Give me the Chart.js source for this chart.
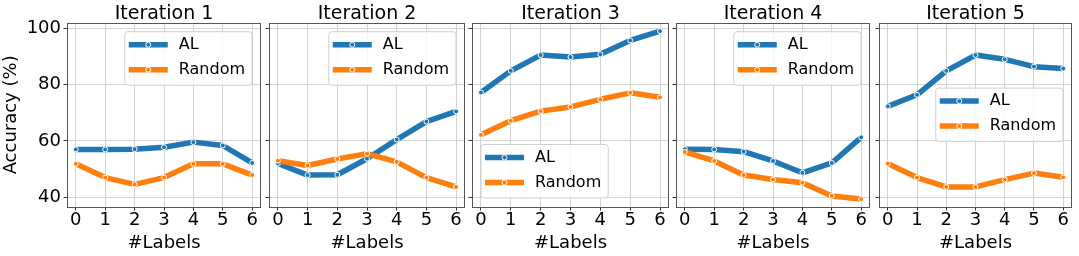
<!DOCTYPE html>
<html><head><meta charset="utf-8">
<script src="https://cdn.jsdelivr.net/npm/chart.js@4.4.0/dist/chart.umd.min.js"></script>
<style>
html,body{margin:0;padding:0;background:#fff;}
#wrap{position:relative;width:1079px;height:256px;overflow:hidden;background:#fff;}
#wrap canvas{position:absolute;top:0;}
</style></head><body><div id="wrap"></div>
<script>
// ---- data ----
const categories = [0, 1, 2, 3, 4, 5, 6];
const xTickLabels = ['0', '1', '2', '3', '4', '5', '6'];
const yTickValues = [40, 60, 80, 100];
const panelTitles = ['Iteration 1', 'Iteration 2', 'Iteration 3', 'Iteration 4', 'Iteration 5'];
const seriesNames = ['AL', 'Random'];
const xAxisTitle = '#Labels';
const yAxisTitle = 'Accuracy (%)';

const alIter1 = [57.0, 57.0, 57.1, 57.8, 59.6, 58.4, 52.2];
const randomIter1 = [51.9, 47.0, 44.6, 47.0, 51.9, 51.9, 47.9];
const alIter2 = [52.0, 47.9, 48.0, 53.7, 60.5, 66.9, 70.5];
const randomIter2 = [53.0, 51.3, 53.6, 55.5, 52.6, 47.0, 43.7];
const alIter3 = [77.2, 84.9, 90.5, 89.8, 90.8, 95.7, 99.0];
const randomIter3 = [62.2, 67.2, 70.6, 72.1, 74.8, 77.1, 75.5];
const alIter4 = [57.1, 57.0, 56.2, 52.9, 48.7, 52.2, 61.3];
const randomIter4 = [56.1, 52.9, 47.9, 46.3, 45.2, 40.5, 39.4];
const alIter5 = [72.3, 76.4, 84.9, 90.5, 89.0, 86.4, 85.7];
const randomIter5 = [52.0, 47.0, 43.7, 43.7, 46.3, 48.6, 47.1];

const alSeries = [alIter1, alIter2, alIter3, alIter4, alIter5];
const randomSeries = [randomIter1, randomIter2, randomIter3, randomIter4, randomIter5];
const legendPlaces = ['upper right', 'upper right', 'lower left', 'upper right', 'center right'];

// ---- style / layout ----
const BLUE = '#1f77b4', ORANGE = '#ff7f0e';
const FONT = 'DejaVu Sans';
const plotLeft = [67, 268.5, 471.5, 676, 879];
const plotRight = [261, 464, 668, 869.5, 1072];

const framePlugin = {
  id: 'frame',
  afterDatasetsDraw(chart) {
    const {ctx, chartArea: a} = chart;
    ctx.save();
    ctx.strokeStyle = '#555';
    ctx.lineWidth = 1;
    ctx.strokeRect(Math.round(a.left) + 0.5, Math.round(a.top) + 0.5,
      Math.round(a.right) - Math.round(a.left) - 1, Math.round(a.bottom) - Math.round(a.top));
    ctx.restore();
  }
};

const panelTitle = {
  id: 'panelTitle',
  afterDraw(chart, args, opts) {
    const {ctx, chartArea: a} = chart;
    ctx.save();
    ctx.font = '19px "' + FONT + '"';
    ctx.fillStyle = '#000';
    ctx.textAlign = 'center';
    ctx.textBaseline = 'alphabetic';
    ctx.fillText(opts.text, (a.left + a.right) / 2, a.top - 3.4);
    ctx.restore();
  }
};

const boxLegend = {
  id: 'boxLegend',
  afterDraw(chart, args, opts) {
    const {ctx, chartArea: a} = chart;
    ctx.save();
    ctx.font = '16px "' + FONT + '"';
    const ds = chart.data.datasets;
    let tw = 0;
    ds.forEach(d => { tw = Math.max(tw, ctx.measureText(d.label).width); });
    const w = 54 + tw + 7, h = 53.5, inset = 9;
    let x, y;
    if (opts.place === 'lower left') { x = a.left + inset; y = a.bottom - inset - h; }
    else if (opts.place === 'center right') { x = a.right - inset - w; y = (a.top + a.bottom) / 2 - h / 2; }
    else { x = a.right - inset - w; y = a.top + inset; }
    ctx.beginPath();
    ctx.roundRect(x, y, w, h, 3);
    ctx.fillStyle = 'rgba(255,255,255,0.8)';
    ctx.fill();
    ctx.strokeStyle = '#d0d0d0';
    ctx.lineWidth = 1;
    ctx.stroke();
    ds.forEach((d, i) => {
      const cy = y + 13 + i * 25;
      ctx.beginPath();
      ctx.moveTo(x + 4, cy); ctx.lineTo(x + 43, cy);
      ctx.strokeStyle = d.borderColor; ctx.lineWidth = 5.5; ctx.stroke();
      ctx.beginPath();
      ctx.arc(x + 23.5, cy, 2.5, 0, Math.PI * 2);
      ctx.fillStyle = d.borderColor; ctx.fill();
      ctx.strokeStyle = '#fff'; ctx.lineWidth = 1; ctx.stroke();
      ctx.fillStyle = '#000';
      ctx.textBaseline = 'middle';
      ctx.textAlign = 'left';
      ctx.fillText(d.label, x + 54, cy);
    });
    ctx.restore();
  }
};

function makePanel(i) {
  const wrap = document.getElementById('wrap');
  const canvas = document.createElement('canvas');
  const yw = i === 0 ? 67 : 6;
  const L = plotLeft[i], R = plotRight[i];
  const cw = Math.round((R - L) + yw + 4);
  canvas.width = cw; canvas.height = 256;
  canvas.style.width = cw + 'px'; canvas.style.height = '256px';
  canvas.style.left = (L - yw) + 'px';
  wrap.appendChild(canvas);

  const toPts = arr => categories.map((c, j) => ({x: c, y: arr[j]}));
  const mk = (label, arr, color, order) => ({
    label, data: toPts(arr), borderColor: color, backgroundColor: color,
    borderWidth: 5.5, tension: 0, borderJoinStyle: 'round', borderCapStyle: 'butt',
    pointRadius: 2.5, pointBackgroundColor: color, pointBorderColor: '#fff',
    pointBorderWidth: 1, pointHoverRadius: 2.5, order, fill: false
  });

  new Chart(canvas, {
    type: 'line',
    data: { datasets: [mk(seriesNames[0], alSeries[i], BLUE, 1), mk(seriesNames[1], randomSeries[i], ORANGE, 0)] },
    options: {
      responsive: false, animation: false, devicePixelRatio: 1,
      layout: { padding: { left: 0, right: 4, top: 22.7, bottom: 0 } },
      plugins: {
        legend: { display: false },
        tooltip: { enabled: false },
        title: { display: false },
        panelTitle: { text: panelTitles[i] },
        boxLegend: { place: legendPlaces[i] }
      },
      scales: {
        x: {
          type: 'linear', min: -0.3, max: 6.3,
          afterBuildTicks: s => { s.ticks = categories.map(v => ({ value: v })); },
          afterFit: s => { s.height = 49; },
          ticks: { color: '#000', font: { family: FONT, size: 18, lineHeight: 1 }, padding: 1,
            maxRotation: 0, autoSkip: false,
            callback: v => xTickLabels[categories.indexOf(v)] },
          grid: { color: '#d4d4d4', lineWidth: 1, tickColor: '#333', tickLength: 3.5 },
          border: { display: false },
          title: { display: true, text: xAxisTitle, color: '#000',
            font: { family: FONT, size: 18, lineHeight: 1.2 }, padding: { top: 0, bottom: 1.4 } }
        },
        y: {
          type: 'linear', min: 36.56, max: 102,
          afterBuildTicks: s => { s.ticks = yTickValues.map(v => ({ value: v })); },
          afterFit: s => { s.width = yw; },
          ticks: { display: i === 0, color: '#000', font: { family: FONT, size: 18 }, padding: 2.5 },
          grid: { color: '#d4d4d4', lineWidth: 1, tickColor: '#333', tickLength: 3.5 },
          border: { display: false },
          title: { display: i === 0, text: yAxisTitle, color: '#000',
            font: { family: FONT, size: 18, lineHeight: 1.2 }, padding: { top: 1, bottom: 0 } }
        }
      }
    },
    plugins: [framePlugin, panelTitle, boxLegend]
  });
}

for (let i = 0; i < 5; i++) makePanel(i);
</script>
</body></html>
